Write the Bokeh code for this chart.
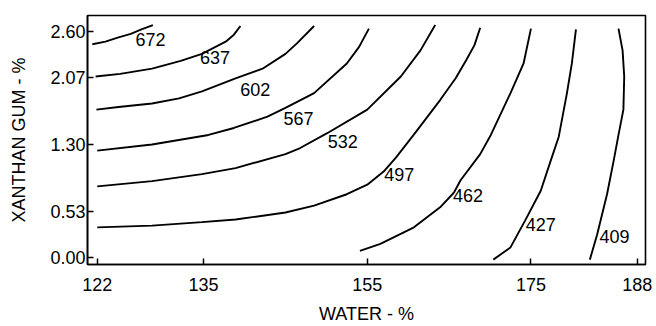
from bokeh.plotting import figure
from bokeh.models import Range1d, FixedTicker, PrintfTickFormatter, ColumnDataSource
from bokeh.core.properties import value
from bokeh.embed import file_html
from bokeh.resources import INLINE

# ---- data ----
x_ticks = [122, 135, 155, 175, 188]
y_ticks = [0.00, 0.53, 1.30, 2.07, 2.60]

levels = ["672", "637", "602", "567", "532", "497", "462", "427", "409"]

c672_x = [121.4, 123.0, 124.6, 126.1, 127.4, 128.8]
c672_y = [2.45, 2.48, 2.53, 2.57, 2.62, 2.67]

c637_x = [121.8, 124.8, 128.7, 132.2, 134.8, 137.7, 138.7, 139.5]
c637_y = [2.08, 2.11, 2.17, 2.26, 2.34, 2.48, 2.56, 2.66]

c602_x = [121.9, 124.6, 128.7, 132.0, 134.8, 138.9, 142.2, 145.0, 146.4, 148.5]
c602_y = [1.70, 1.73, 1.77, 1.83, 1.91, 2.06, 2.17, 2.34, 2.46, 2.66]

c567_x = [122.0, 128.7, 135.6, 138.7, 142.8, 145.0, 148.5, 152.5, 154.0, 155.2]
c567_y = [1.23, 1.30, 1.41, 1.49, 1.62, 1.72, 1.89, 2.23, 2.42, 2.63]

c532_x = [122.0, 128.7, 134.8, 138.9, 145.0, 146.8, 150.1, 155.0, 159.1, 161.5, 163.3]
c532_y = [0.82, 0.88, 0.96, 1.03, 1.19, 1.26, 1.43, 1.70, 2.08, 2.38, 2.67]

c497_x = [122.0, 128.7, 134.8, 138.9, 145.0, 148.5, 152.5, 155.0, 157.0, 158.5,
          160.9, 163.9, 165.8, 167.1, 168.1, 168.8]
c497_y = [0.35, 0.37, 0.41, 0.44, 0.52, 0.60, 0.73, 0.84, 0.99, 1.15,
          1.44, 1.81, 2.06, 2.27, 2.44, 2.64]

c462_x = [154.1, 156.6, 160.7, 163.9, 165.6, 166.4, 168.8, 170.1, 172.5, 174.1, 175.0]
c462_y = [0.08, 0.16, 0.35, 0.58, 0.75, 0.89, 1.19, 1.41, 1.89, 2.23, 2.63]

c427_x = [170.4, 172.5, 174.3, 176.2, 177.4, 178.4, 179.4, 180.0, 180.5]
c427_y = [-0.02, 0.12, 0.43, 0.77, 1.11, 1.39, 1.89, 2.23, 2.62]

c409_x = [182.2, 183.1, 184.3, 185.1, 185.7, 186.3, 186.4, 186.2, 185.7]
c409_y = [-0.02, 0.27, 0.73, 1.11, 1.41, 1.70, 2.08, 2.38, 2.63]

# label anchor points (data units)
label_x = [128.5, 136.4, 141.3, 146.6, 152.0, 158.9, 167.3, 176.2, 185.2]
label_y = [2.51, 2.30, 1.93, 1.60, 1.34, 0.96, 0.71, 0.38, 0.25]

FONT = "Liberation Sans"

p = figure(width=656, height=326, output_backend="svg", toolbar_location=None,
           x_range=Range1d(120.81, 189.0), y_range=Range1d(-0.076, 2.78),
           min_border_left=87, min_border_right=11, min_border_top=15,
           min_border_bottom=60)

p.grid.visible = False
p.background_fill_color = "white"
p.border_fill_color = "white"
p.outline_line_color = "black"
p.outline_line_width = 1.6

src = ColumnDataSource(dict(
    xs=[c672_x, c637_x, c602_x, c567_x, c532_x, c497_x, c462_x, c427_x, c409_x],
    ys=[c672_y, c637_y, c602_y, c567_y, c532_y, c497_y, c462_y, c427_y, c409_y],
))
p.multi_line("xs", "ys", source=src, line_color="black", line_width=1.9)

p.text(x=label_x, y=label_y, text=levels, text_font=value(FONT),
       text_font_size="18px", text_align="center", text_baseline="middle",
       text_color="black")

for ax in (p.xaxis, p.yaxis):
    ax.major_tick_in = 6
    ax.major_tick_out = 0
    ax.minor_tick_in = 0
    ax.minor_tick_out = 0
    ax.axis_line_width = 1.6
    ax.major_tick_line_width = 1.5
    ax.major_label_text_font = FONT
    ax.major_label_text_font_size = "18px"
    ax.major_label_text_color = "black"
    ax.axis_label_text_font = FONT
    ax.axis_label_text_font_size = "18px"
    ax.axis_label_text_font_style = "normal"
    ax.axis_label_text_color = "black"

p.xaxis.ticker = FixedTicker(ticks=x_ticks)
p.xaxis.formatter = PrintfTickFormatter(format="%d")
p.xaxis.axis_label = "WATER - %"
p.xaxis.major_label_standoff = 13
p.xaxis.axis_label_standoff = 10

p.yaxis.ticker = FixedTicker(ticks=y_ticks)
p.yaxis.formatter = PrintfTickFormatter(format="%.2f")
p.yaxis.axis_label = "XANTHAN GUM - %"
p.yaxis.major_label_standoff = 2
p.yaxis.axis_label_standoff = 18

open("out.html", "w").write(file_html(p, INLINE))
